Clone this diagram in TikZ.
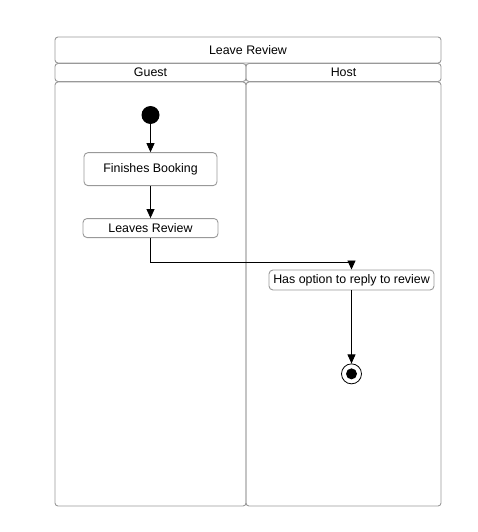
\documentclass[tikz,border=0pt]{standalone}
\usepackage{fontspec}
\setmainfont{Liberation Sans}
\usetikzlibrary{positioning, arrows.meta}
\tikzset{
lane/.style={draw=gray!80, rounded corners=3pt, inner sep=0, line width=0.9pt, font=\fontsize{12.4}{14}\selectfont},
action/.style={draw=gray!80, rounded corners=4pt, fill=white, inner sep=2pt, line width=0.9pt, font=\fontsize{12.4}{14}\selectfont},
initial/.style={circle, fill=black, minimum size=18pt, inner sep=0},
final/.style={circle, draw, line width=0.8pt, minimum size=20pt, inner sep=0, path picture={\fill (path picture bounding box.center) circle (5.5pt);}},
flow/.style={-{Triangle[length=9pt,width=8pt]}, line width=0.8pt}}
\begin{document}
\begin{tikzpicture}[x=1pt, y=-1pt]
\useasboundingbox (0,0) rectangle (477,532);
% swimlanes
\node [lane, minimum width=386pt, minimum height=26pt] (title) at (248,50) {Leave Review};
\node [lane, minimum width=191pt, minimum height=18pt] (guest) at (150.5,72.5) {Guest};
\node [lane, minimum width=195pt, minimum height=18pt] (host) at (343.5,72.5) {Host};
\node [lane, minimum width=191pt, minimum height=424pt] (guestlane) at (150.5,294) {};
\node [lane, minimum width=195pt, minimum height=424pt] (hostlane) at (343.5,294) {};
% activities
\node [initial] (start) at (150.5,115) {};
\node [action, minimum width=133pt, minimum height=33pt, below=28pt of start] (booking) {Finishes Booking};
\node [action, minimum width=135pt, minimum height=19pt, below=32pt of booking] (review) {Leaves Review};
\node [action, minimum width=165pt, minimum height=20pt] (reply) at (351.5,280) {Has option to reply to review};
\node [final, below=73pt of reply] (stop) {};
\draw [flow] (start) -- (booking);
\draw [flow] (booking) -- (review);
\draw [flow] (review.south) -- ++(0,24) -| (reply.north);
\draw [flow] (reply) -- (stop);
\end{tikzpicture}
\end{document}
